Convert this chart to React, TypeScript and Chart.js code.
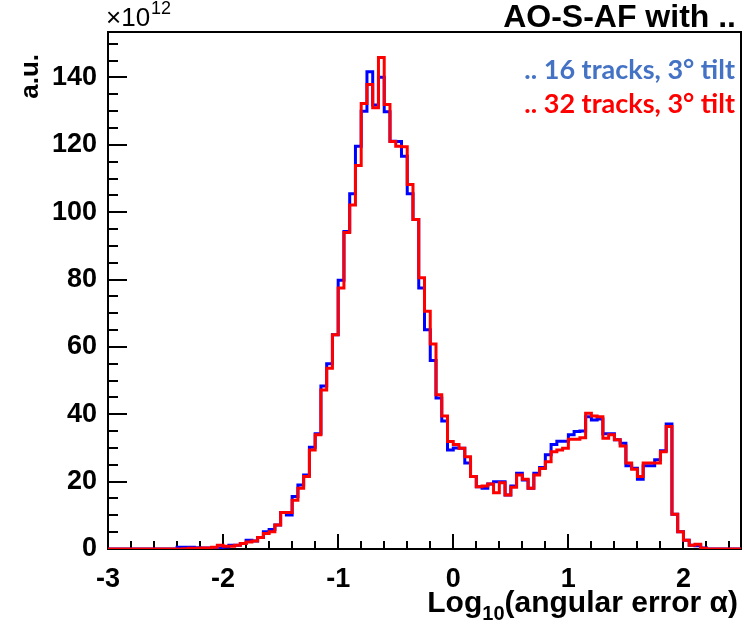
import React, { useEffect, useRef } from "react";
import { Chart, registerables } from "chart.js";

Chart.register(...registerables);

// Histogram binning: 110 bins from -3 to 2.5 (width 0.05)
const binStart = -3;
const binWidth = 0.05;

// ".. 16 tracks, 3° tilt" (blue), values in units of 1e12
const tracks16: number[] = [
  0, 0, 0, 0, 0, 0, 0, 0, 0, 0, 0, 0, 0,
  0.5, 0.5, 0.5, 0.4, 0.3, 0.3, 0.3, 0.3, 0.6, 1.1, 1.1, 1.6, 2.6, 2.4, 3.4, 5.1, 5.8,
  7.1, 10.8, 10.1, 15.6, 19.0, 22.0, 30.2, 34.2, 48.4, 55.0,
  63.6, 79.8, 94.3, 105.5, 119.6, 130.0, 141.7, 131.8, 140.1, 129.8,
  121.1, 121.0, 116.6, 105.5, 97.8, 77.5, 65.1, 56.0, 44.8, 38.0,
  29.4, 30.0, 29.9, 25.5, 21.5, 18.5, 18.0, 19.3, 20.0, 20.0,
  16.0, 18.7, 22.5, 20.5, 18.0, 22.5, 24.2, 28.0, 31.0, 32.0,
  32.0, 33.9, 34.9, 35.0, 39.3, 38.3, 38.6, 34.2, 34.2, 32.4,
  31.4, 24.7, 24.0, 20.7, 24.7, 24.7, 26.5, 29.2, 37.1, 10.3,
  5.1, 2.6, 1.1, 1.0, 0.3, 0, 0, 0, 0, 0,
];

// ".. 32 tracks, 3° tilt" (red)
const tracks32: number[] = [
  0, 0, 0, 0, 0, 0, 0, 0, 0, 0, 0, 0, 0, 0,
  0.1, 0.2, 0.2, 0.3, 0.3, 0.5, 1.1, 0.8, 0.8, 1.1, 1.6, 2.1, 2.4, 3.4, 4.6, 5.1,
  7.1, 10.8, 10.8, 14.5, 18.0, 21.5, 29.4, 33.9, 47.2, 53.7,
  63.6, 77.5, 94.0, 102.1, 113.9, 132.3, 137.9, 131.0, 145.9, 132.0,
  121.0, 119.6, 119.4, 108.2, 97.8, 80.5, 70.6, 60.9, 45.8, 39.5,
  31.9, 31.0, 29.9, 27.4, 21.5, 18.5, 18.7, 19.3, 16.7, 19.7,
  16.0, 18.3, 22.0, 20.7, 18.0, 22.0, 23.9, 25.9, 28.9, 29.4,
  29.9, 32.6, 32.6, 33.0, 40.3, 39.5, 39.3, 32.9, 33.9, 32.4,
  30.6, 25.5, 23.7, 21.5, 25.5, 25.5, 25.5, 28.9, 36.4, 10.3,
  5.1, 2.6, 1.1, 1.4, 0.2, 0, 0, 0, 0, 0,
];

const xTickValues: number[] = [-3, -2, -1, 0, 1, 2];
const yTickValues: number[] = [0, 20, 40, 60, 80, 100, 120, 140];
const xMin = -3;
const xMax = 2.5;
const yMax = 153.5;

const seriesLabels = [".. 16 tracks, 3\u00b0 tilt", ".. 32 tracks, 3\u00b0 tilt"];
const titleText = "AO-S-AF with ..";

const ROOT_FONT = "'Liberation Sans', Arial, Helvetica, sans-serif";
const LEGEND_FONT = "Lato, 'Open Sans', sans-serif";

function toSteps(values: number[]) {
  const pts = values.map((v, i) => ({ x: binStart + i * binWidth, y: v }));
  pts.push({ x: binStart + values.length * binWidth, y: values[values.length - 1] });
  return pts;
}

const rootFrame = {
  id: "rootFrame",
  beforeDatasetsDraw(chart: any) {
    const { ctx, chartArea: a, scales } = chart;
    ctx.save();
    ctx.strokeStyle = "#000";
    ctx.lineWidth = 2;
    ctx.strokeRect(a.left, a.top, a.right - a.left, a.bottom - a.top);
    ctx.lineWidth = 2;
    const xs = scales.x;
    for (let k = 0; k <= 27; k++) {
      const v = xMin + k * 0.2;
      const major = k % 5 === 0;
      const px = Math.round(xs.getPixelForValue(v));
      ctx.beginPath();
      ctx.moveTo(px, a.bottom);
      ctx.lineTo(px, a.bottom - (major ? 15 : 8));
      ctx.stroke();
    }
    const ys = scales.y;
    for (let v = 0; v <= yMax; v += 5) {
      const major = v % 20 === 0;
      const py = Math.round(ys.getPixelForValue(v));
      ctx.beginPath();
      ctx.moveTo(a.left, py);
      ctx.lineTo(a.left + (major ? 19 : 10), py);
      ctx.stroke();
    }
    ctx.restore();
  },
  afterDraw(chart: any) {
    const { ctx, chartArea: a } = chart;
    ctx.save();
    ctx.fillStyle = "#000";
    ctx.textBaseline = "alphabetic";
    ctx.textAlign = "left";
    ctx.font = `26px ${ROOT_FONT}`;
    ctx.fillText("\u00d710", a.left - 2, 26);
    const w = ctx.measureText("\u00d710").width;
    ctx.font = `18px ${ROOT_FONT}`;
    ctx.fillText("12", a.left - 2 + w + 1, 14);

    ctx.textAlign = "right";
    ctx.font = `bold 32px ${ROOT_FONT}`;
    ctx.fillText(titleText, 736, 27);

    ctx.font = `bold 27px ${LEGEND_FONT}`;
    ctx.fillStyle = "#4472c4";
    ctx.fillText(seriesLabels[0], 735, 79);
    ctx.fillStyle = "#ff0000";
    ctx.fillText(seriesLabels[1], 735, 113);

    ctx.fillStyle = "#000";
    ctx.save();
    ctx.translate(38, 54);
    ctx.rotate(-Math.PI / 2);
    ctx.textAlign = "right";
    ctx.font = `bold 26px ${ROOT_FONT}`;
    ctx.fillText("a.u.", 0, 0);
    ctx.restore();

    const big = `bold 30px ${ROOT_FONT}`;
    const small = `bold 20px ${ROOT_FONT}`;
    const p1 = "Log";
    const p2 = "10";
    const p3 = "(angular error \u03b1)";
    ctx.textAlign = "left";
    ctx.font = big;
    const w1 = ctx.measureText(p1).width;
    const w3 = ctx.measureText(p3).width;
    ctx.font = small;
    const w2 = ctx.measureText(p2).width;
    const right = 738;
    const base = 612;
    let x0 = right - (w1 + w2 + w3);
    ctx.font = big;
    ctx.fillText(p1, x0, base);
    x0 += w1;
    ctx.font = small;
    ctx.fillText(p2, x0, base + 8);
    x0 += w2;
    ctx.font = big;
    ctx.fillText(p3, x0, base);
    ctx.restore();
  },
};

export default function App() {
  const ref = useRef<HTMLCanvasElement | null>(null);
  useEffect(() => {
    if (!ref.current) return;
    const chart = new Chart(ref.current, {
      type: "line",
      data: {
        datasets: [
          {
            label: seriesLabels[1],
            data: toSteps(tracks32),
            borderColor: "#ff0000",
            borderWidth: 3,
            stepped: "after",
            pointRadius: 0,
            fill: false,
          },
          {
            label: seriesLabels[0],
            data: toSteps(tracks16),
            borderColor: "#0000ff",
            borderWidth: 3,
            stepped: "after",
            pointRadius: 0,
            fill: false,
          },
        ],
      },
      options: {
        responsive: false,
        animation: false,
        events: [],
        layout: { padding: { left: 8, right: 3, top: 32, bottom: 0 } },
        plugins: {
          legend: { display: false },
          tooltip: { enabled: false },
          title: { display: false },
        },
        scales: {
          x: {
            type: "linear",
            min: xMin,
            max: xMax,
            grid: { display: false, drawTicks: false },
            border: { display: false },
            afterBuildTicks: (s: any) => {
              s.ticks = xTickValues.map((v) => ({ value: v }));
            },
            afterFit: (s: any) => {
              s.height = 78;
            },
            ticks: {
              autoSkip: false,
              maxRotation: 0,
              padding: 14,
              color: "#000",
              font: { family: ROOT_FONT, weight: "bold", size: 27 },
              callback: (v: any) => String(v),
            },
          },
          y: {
            type: "linear",
            min: 0,
            max: yMax,
            grid: { display: false, drawTicks: false },
            border: { display: false },
            afterBuildTicks: (s: any) => {
              s.ticks = yTickValues.map((v) => ({ value: v }));
            },
            afterFit: (s: any) => {
              s.width = 100;
            },
            ticks: {
              padding: 11,
              color: "#000",
              font: { family: ROOT_FONT, weight: "bold", size: 27 },
              callback: (v: any) => String(v),
            },
          },
        },
      },
      plugins: [rootFrame],
    });
    return () => chart.destroy();
  }, []);
  return (
    <div style={{ position: "absolute", left: 0, top: 0, width: 744, height: 627, background: "#fff" }}>
      <canvas ref={ref} width={744} height={627} style={{ display: "block" }} />
    </div>
  );
}
